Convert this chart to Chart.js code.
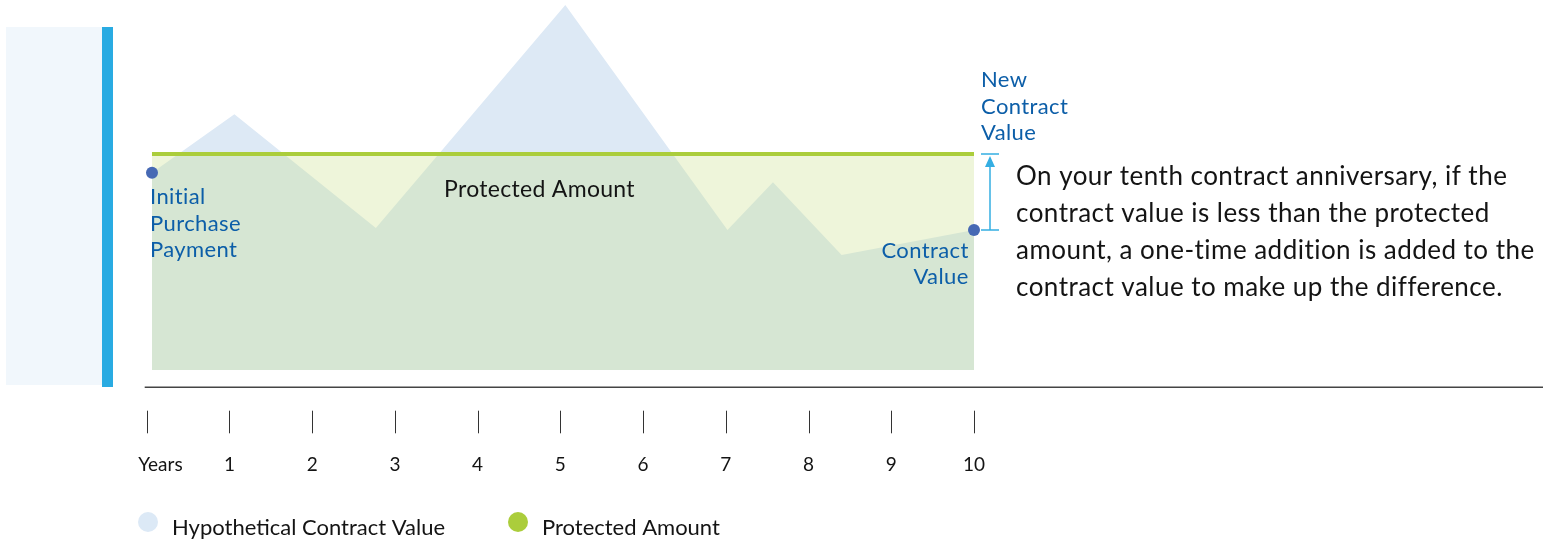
<!DOCTYPE html>
<html>
<head>
<meta charset="utf-8">
<title>Protected Amount vs. Hypothetical Contract Value</title>
<script src="https://cdn.jsdelivr.net/npm/chart.js@4.4.1/dist/chart.umd.min.js"></script>
<style>
  html, body { margin: 0; padding: 0; background: #ffffff; }
  #wrap { position: relative; width: 1549px; height: 543px; }
  canvas { display: block; }
</style>
</head>
<body>
<div id="wrap"><canvas id="chart" width="1549" height="543"></canvas></div>
<script>
// Hypothetical contract value over the ten-year period (index, protected amount = 100)
const years = [0.064, 1.06, 2.77, 5.06, 7.02, 7.57, 8.40, 10];
const contractValue = [91.3, 118.4, 65.7, 169, 64.8, 86.9, 53.2, 64.8];

// Protected amount held flat across the period
const protectedYears = [0.064, 10];
const protectedAmount = [100, 100];

// Year axis
const tickYears = [0, 1, 2, 3, 4, 5, 6, 7, 8, 9, 10];
const tickLabels = ['Years', '1', '2', '3', '4', '5', '6', '7', '8', '9', '10'];

const seriesNames = ['Hypothetical Contract Value', 'Protected Amount'];

const initialLabel = ['Initial', 'Purchase', 'Payment'];
const contractLabel = ['Contract', 'Value'];
const newContractLabel = ['New', 'Contract', 'Value'];
const noteLines = [
  'On your tenth contract anniversary, if the',
  'contract value is less than the protected',
  'amount, a one-time addition is added to the',
  'contract value to make up the difference.'
];

const COLORS = {
  contractAbove: '#dde9f5',
  protectedGap: '#eef5da',
  overlap: '#d6e6d3',
  protectedLine: '#abcd3b',
  dot: '#4669b4',
  labelBlue: '#0c5ea8',
  arrow: '#35aee2',
  text: '#141414',
  axis: '#444444',
  tick: '#333333',
  panel: '#f1f7fc',
  panelBar: '#29abe2',
  legendContract: '#dce9f6'
};
const FONT = 'Lato, "Open Sans", sans-serif';

function toPoints(xs, ys) {
  return xs.map((x, i) => ({ x: x, y: ys[i] }));
}

function setSpacing(ctx, px) {
  if ('letterSpacing' in ctx) ctx.letterSpacing = px + 'px';
}

// Backdrop panel, year axis, annotations and legend drawn around the plotted series
const decorPlugin = {
  id: 'decor',
  beforeDraw(chart) {
    const ctx = chart.ctx;
    ctx.save();
    ctx.fillStyle = '#ffffff';
    ctx.fillRect(0, 0, chart.width, chart.height);
    ctx.fillStyle = COLORS.panel;
    ctx.fillRect(6, 27, 96, 358);
    ctx.fillStyle = COLORS.panelBar;
    ctx.fillRect(102, 27, 11, 360);
    ctx.restore();
  },
  afterDraw(chart) {
    const ctx = chart.ctx;
    const xs = chart.scales.x;
    const ys = chart.scales.y;
    const bottom = ys.getPixelForValue(0);
    const px = v => xs.getPixelForValue(v);
    const py = v => ys.getPixelForValue(v);

    ctx.save();

    // axis rule
    ctx.strokeStyle = COLORS.axis;
    ctx.lineWidth = 1.5;
    ctx.beginPath();
    ctx.moveTo(px(0) - 2, bottom + 17.3);
    ctx.lineTo(1543, bottom + 17.3);
    ctx.stroke();

    // year ticks and labels
    ctx.strokeStyle = COLORS.tick;
    ctx.lineWidth = 1;
    ctx.font = '19px ' + FONT;
    ctx.fillStyle = COLORS.text;
    ctx.textBaseline = 'alphabetic';
    tickYears.forEach((yr, i) => {
      const x = Math.round(px(yr)) + 0.5;
      ctx.beginPath();
      ctx.moveTo(x, bottom + 40.7);
      ctx.lineTo(x, bottom + 63.3);
      ctx.stroke();
      if (i === 0) {
        ctx.textAlign = 'left';
        ctx.fillText(tickLabels[i], px(yr) - 8.4, bottom + 100.7);
      } else {
        ctx.textAlign = 'center';
        ctx.fillText(tickLabels[i], px(yr), bottom + 100.7);
      }
    });

    const protectedY = py(protectedAmount[0]);
    const startX = px(years[0]);
    const startY = py(contractValue[0]);
    const endX = px(years[years.length - 1]);
    const endY = py(contractValue[contractValue.length - 1]);

    // blue callouts
    ctx.fillStyle = COLORS.labelBlue;
    ctx.font = '22px ' + FONT;
    setSpacing(ctx, 0.4);
    ctx.textAlign = 'left';
    initialLabel.forEach((t, i) => ctx.fillText(t, startX - 2, startY + 31.6 + i * 26.5));
    ctx.textAlign = 'right';
    contractLabel.forEach((t, i) => ctx.fillText(t, endX - 5.3, endY + 27.8 + i * 26.4));
    ctx.textAlign = 'left';
    newContractLabel.forEach((t, i) => ctx.fillText(t, endX + 7, protectedY - 67.3 + i * 26.8));
    setSpacing(ctx, 0);

    // arrow from contract value up to the protected amount
    const ax = endX + 16;
    ctx.strokeStyle = COLORS.arrow;
    ctx.fillStyle = COLORS.arrow;
    ctx.lineWidth = 1.5;
    ctx.beginPath();
    ctx.moveTo(endX + 7, protectedY); ctx.lineTo(endX + 25, protectedY);
    ctx.moveTo(endX + 7, endY); ctx.lineTo(endX + 25, endY);
    ctx.moveTo(ax, endY); ctx.lineTo(ax, protectedY + 10);
    ctx.stroke();
    ctx.beginPath();
    ctx.moveTo(ax, protectedY + 2);
    ctx.lineTo(ax - 5, protectedY + 13);
    ctx.lineTo(ax + 5, protectedY + 13);
    ctx.closePath();
    ctx.fill();

    // region label
    ctx.fillStyle = COLORS.text;
    ctx.font = '23px ' + FONT;
    setSpacing(ctx, 0.3);
    ctx.textAlign = 'center';
    ctx.fillText(seriesNames[1], 539.5, protectedY + 42.7);

    // explanatory note
    ctx.font = '26px ' + FONT;
    setSpacing(ctx, 0.47);
    ctx.textAlign = 'left';
    noteLines.forEach((t, i) => ctx.fillText(t, 1016, 184.5 + i * 37.2));
    setSpacing(ctx, 0);

    // legend
    const legendItems = [
      { color: COLORS.legendContract, cx: 148, text: seriesNames[0] },
      { color: COLORS.protectedLine, cx: 518, text: seriesNames[1] }
    ];
    ctx.font = '22px ' + FONT;
    legendItems.forEach(item => {
      ctx.fillStyle = item.color;
      ctx.beginPath();
      ctx.arc(item.cx, 522, 10, 0, Math.PI * 2);
      ctx.fill();
      ctx.fillStyle = COLORS.text;
      ctx.textAlign = 'left';
      ctx.fillText(item.text, item.cx + 24, 534.5);
    });

    ctx.restore();
  }
};

const chart = new Chart(document.getElementById('chart'), {
  type: 'line',
  data: {
    datasets: [
      {
        label: seriesNames[0],
        data: toPoints(years, contractValue),
        order: 0,
        borderWidth: 0,
        borderColor: 'rgba(0,0,0,0)',
        tension: 0,
        fill: { target: { value: protectedAmount[0] }, above: COLORS.contractAbove, below: COLORS.protectedGap },
        pointRadius: ctx => (ctx.dataIndex === 0 || ctx.dataIndex === years.length - 1) ? 6 : 0,
        pointBackgroundColor: COLORS.dot,
        pointBorderWidth: 0,
        clip: false
      },
      {
        label: seriesNames[1],
        data: toPoints(protectedYears, protectedAmount),
        order: 1,
        borderColor: COLORS.protectedLine,
        borderWidth: 4,
        backgroundColor: COLORS.overlap,
        fill: 'origin',
        tension: 0,
        pointRadius: 0
      }
    ]
  },
  options: {
    responsive: false,
    animation: false,
    events: [],
    layout: { autoPadding: false, padding: { left: 146.7, right: 575, top: 2.8, bottom: 173 } },
    scales: {
      x: { type: 'linear', min: 0, max: 10, display: false },
      y: { type: 'linear', min: 0, max: 170, display: false }
    },
    plugins: {
      legend: { display: false },
      tooltip: { enabled: false },
      filler: { drawTime: 'beforeDatasetsDraw' }
    }
  },
  plugins: [decorPlugin]
});
</script>
</body>
</html>
